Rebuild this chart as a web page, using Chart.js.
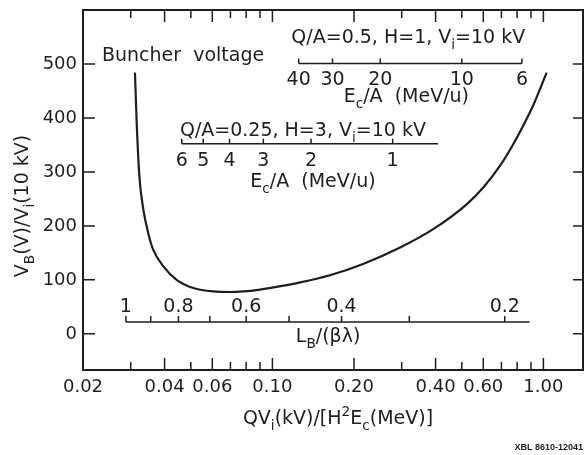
<!DOCTYPE html>
<html>
<head>
<meta charset="utf-8">
<script src="https://cdn.jsdelivr.net/npm/chart.js@4.4.0/dist/chart.umd.min.js"></script>
<style>
  body { margin: 0; background: #fff; }
  #wrap { width: 584px; height: 455px; }
</style>
</head>
<body>
<div id="wrap"><canvas id="buncherChart" width="584" height="455"></canvas></div>
<script>
// buncher voltage curve
const xValues = [0.0311, 0.0316, 0.0323, 0.0334, 0.0348, 0.0363, 0.0396, 0.0443, 0.0510, 0.0605, 0.0700, 0.0780, 0.0900,
                 0.1010, 0.1230, 0.1630, 0.2160, 0.2960, 0.3920, 0.5210, 0.6000, 0.6910, 0.7970, 0.9180, 1.0280];
const vbValues = [484, 384, 291, 230, 187, 156, 125, 100, 85, 78.5, 77.5, 78.5, 82,
                  86, 94, 108.5, 129.5, 160, 194, 240, 271, 311, 363, 424, 484];

// main axes
const xTickValues = [0.02, 0.03, 0.04, 0.05, 0.06, 0.07, 0.08, 0.09, 0.1, 0.2, 0.3, 0.4, 0.5, 0.6, 0.7, 0.8, 0.9, 1.0];
const xLabelValues = [0.02, 0.04, 0.06, 0.1, 0.2, 0.4, 0.6, 1.0];
const yTickValues = [0, 100, 200, 300, 400, 500];

// Ec/A scale, Q/A = 0.5, H = 1, Vi = 10 kV
const ecTicksA = [40, 30, 20, 10, 6];
// Ec/A scale, Q/A = 0.25, H = 3, Vi = 10 kV
const ecTicksB = [6, 5, 4, 3, 2, 1];
const ecEndB = 0.68;
// LB/(beta lambda) scale
const lbLabels = [1, 0.8, 0.6, 0.4, 0.2];
const lbMinor = [0.9, 0.7, 0.5, 0.3];
const lbEnd = 0.18;

const ink = '#1e1e1e';
const font = 'DejaVu Sans';

// x = Q Vi / (H^2 Ec)
function ecToX(e, qa, h, vi){ return qa * vi / (h * h * e); }
function lbToX(l){ return 0.0288 / (l * l); }

// text with sub/superscripts: parts = [[text, ''|'sub'|'sup'], ...]
function drawRich(ctx, parts, x, y, size, align){
    let w = 0;
    parts.forEach(p => {
        ctx.font = (p[1] ? size * 0.72 : size) + 'px "' + font + '"';
        w += ctx.measureText(p[0]).width;
    });
    let cx = x;
    if(align === 'center') cx = x - w / 2;
    if(align === 'right') cx = x - w;
    ctx.textAlign = 'left';
    ctx.textBaseline = 'alphabetic';
    parts.forEach(p => {
        let s = p[1] ? size * 0.72 : size;
        ctx.font = s + 'px "' + font + '"';
        let dy = 0;
        if(p[1] === 'sub') dy = size * 0.3;
        if(p[1] === 'sup') dy = -size * 0.42;
        ctx.fillText(p[0], cx, y + dy);
        cx += ctx.measureText(p[0]).width;
    });
}

function drawLabel(ctx, text, x, y, size){
    ctx.font = size + 'px "' + font + '"';
    ctx.textAlign = 'center';
    ctx.textBaseline = 'alphabetic';
    ctx.fillText(text, x, y);
}

const framePlugin = {
    id: 'frame',
    afterDraw(chart){
        const ctx = chart.ctx;
        const a = chart.chartArea;
        const xs = chart.scales.x;
        const ys = chart.scales.y;
        ctx.save();
        ctx.strokeStyle = ink;
        ctx.fillStyle = ink;
        ctx.lineWidth = 2;
        ctx.strokeRect(a.left, a.top, a.right - a.left, a.bottom - a.top);

        // inward ticks on all four sides
        ctx.lineWidth = 1.5;
        ctx.beginPath();
        xTickValues.forEach(v => {
            let px = xs.getPixelForValue(v);
            let len = xLabelValues.includes(v) ? 12 : 8;
            ctx.moveTo(px, a.bottom); ctx.lineTo(px, a.bottom - len);
            ctx.moveTo(px, a.top); ctx.lineTo(px, a.top + len);
        });
        yTickValues.forEach(v => {
            let py = ys.getPixelForValue(v);
            ctx.moveTo(a.left, py); ctx.lineTo(a.left + 12, py);
            ctx.moveTo(a.right, py); ctx.lineTo(a.right - 10, py);
        });
        ctx.stroke();

        // upper Ec/A scale
        let yA = ys.getPixelForValue(501);
        let x1 = xs.getPixelForValue(ecToX(ecTicksA[0], 0.5, 1, 10));
        let x2 = xs.getPixelForValue(ecToX(ecTicksA[ecTicksA.length - 1], 0.5, 1, 10));
        ctx.beginPath();
        ctx.moveTo(x1, yA); ctx.lineTo(x2, yA);
        ecTicksA.forEach(e => {
            let px = xs.getPixelForValue(ecToX(e, 0.5, 1, 10));
            ctx.moveTo(px, yA); ctx.lineTo(px, yA - 5);
        });
        ctx.stroke();
        ecTicksA.forEach(e => {
            drawLabel(ctx, String(e), xs.getPixelForValue(ecToX(e, 0.5, 1, 10)), yA + 22, 19);
        });
        drawRich(ctx, [['Q/A=0.5, H=1, V', ''], ['i', 'sub'], ['=10 kV', '']], (x1 + x2) / 2 - 2, yA - 20, 19, 'center');
        drawRich(ctx, [['E', ''], ['c', 'sub'], ['/A  (MeV/u)', '']], (x1 + x2) / 2 - 4, yA + 39, 19, 'center');

        // lower Ec/A scale
        let yB = ys.getPixelForValue(352);
        x1 = xs.getPixelForValue(ecToX(ecTicksB[0], 0.25, 3, 10));
        x2 = xs.getPixelForValue(ecToX(ecEndB, 0.25, 3, 10));
        ctx.beginPath();
        ctx.moveTo(x1, yB); ctx.lineTo(x2, yB);
        ecTicksB.forEach(e => {
            let px = xs.getPixelForValue(ecToX(e, 0.25, 3, 10));
            ctx.moveTo(px, yB); ctx.lineTo(px, yB - 5);
        });
        ctx.stroke();
        ecTicksB.forEach(e => {
            drawLabel(ctx, String(e), xs.getPixelForValue(ecToX(e, 0.25, 3, 10)), yB + 22, 19);
        });
        drawRich(ctx, [['Q/A=0.25, H=3, V', ''], ['i', 'sub'], ['=10 kV', '']], (x1 + x2) / 2 - 7, yB - 8, 19, 'center');
        drawRich(ctx, [['E', ''], ['c', 'sub'], ['/A  (MeV/u)', '']], (x1 + x2) / 2 + 3, yB + 43, 19, 'center');

        // LB/(beta lambda) scale
        let yL = ys.getPixelForValue(22);
        x1 = xs.getPixelForValue(lbToX(lbLabels[0]));
        x2 = xs.getPixelForValue(lbToX(lbEnd));
        ctx.beginPath();
        ctx.moveTo(x1, yL); ctx.lineTo(x2, yL);
        lbLabels.concat(lbMinor).forEach(l => {
            let px = xs.getPixelForValue(lbToX(l));
            ctx.moveTo(px, yL); ctx.lineTo(px, yL - 6);
        });
        ctx.stroke();
        lbLabels.forEach(l => {
            drawLabel(ctx, String(l), xs.getPixelForValue(lbToX(l)), yL - 10, 19);
        });
        drawRich(ctx, [['L', ''], ['B', 'sub'], ['/(\u03b2\u03bb)', '']], xs.getPixelForValue(0.122), yL + 20, 19, 'left');

        // curve name
        drawRich(ctx, [['Buncher  voltage', '']], xs.getPixelForValue(0.0235), ys.getPixelForValue(506), 19, 'left');

        // axis titles
        drawRich(ctx, [['QV', ''], ['i', 'sub'], ['(kV)/[H', ''], ['2', 'sup'], ['E', ''], ['c', 'sub'], ['(MeV)]', '']],
            (a.left + a.right) / 2 + 5, a.bottom + 54, 19, 'center');
        ctx.save();
        ctx.translate(28, (a.top + a.bottom) / 2 + 16);
        ctx.rotate(-Math.PI / 2);
        drawRich(ctx, [['V', ''], ['B', 'sub'], ['(V)/V', ''], ['i', 'sub'], ['(10 kV)', '']], 0, 0, 19, 'center');
        ctx.restore();

        // drawing number
        ctx.font = 'bold 9px "Liberation Sans"';
        ctx.textAlign = 'right';
        ctx.textBaseline = 'alphabetic';
        ctx.fillText('XBL 8610-12041', 583, 450);
        ctx.restore();
    }
};

new Chart(document.getElementById('buncherChart'), {
    type: 'line',
    data: {
        datasets: [{
            data: xValues.map((x, i) => ({x: x, y: vbValues[i]})),
            borderColor: ink,
            borderWidth: 2.2,
            pointRadius: 0,
            cubicInterpolationMode: 'monotone',
            fill: false
        }]
    },
    options: {
        responsive: false,
        animation: false,
        devicePixelRatio: 1,
        layout: {padding: {top: 10, right: 1, left: 0, bottom: 0}},
        plugins: {legend: {display: false}, tooltip: {enabled: false}},
        scales: {
            x: {
                type: 'logarithmic',
                min: 0.02,
                max: 1.4,
                afterBuildTicks: s => { s.ticks = xTickValues.map(v => ({value: v})); },
                afterFit: s => { s.height = 85; s.paddingLeft = 0; s.paddingRight = 0; },
                grid: {display: false, drawTicks: false},
                border: {display: false},
                ticks: {
                    autoSkip: false,
                    maxRotation: 0,
                    padding: 7,
                    color: ink,
                    font: {family: font, size: 18},
                    callback: v => xLabelValues.includes(v) ? v.toFixed(2) : ''
                }
            },
            y: {
                min: -67,
                max: 600,
                afterBuildTicks: s => { s.ticks = yTickValues.map(v => ({value: v})); },
                afterFit: s => { s.width = 83; s.paddingTop = 0; s.paddingBottom = 0; },
                grid: {display: false, drawTicks: false},
                border: {display: false},
                ticks: {padding: 6, color: ink, font: {family: font, size: 18}}
            }
        }
    },
    plugins: [framePlugin]
});
</script>
</body>
</html>
